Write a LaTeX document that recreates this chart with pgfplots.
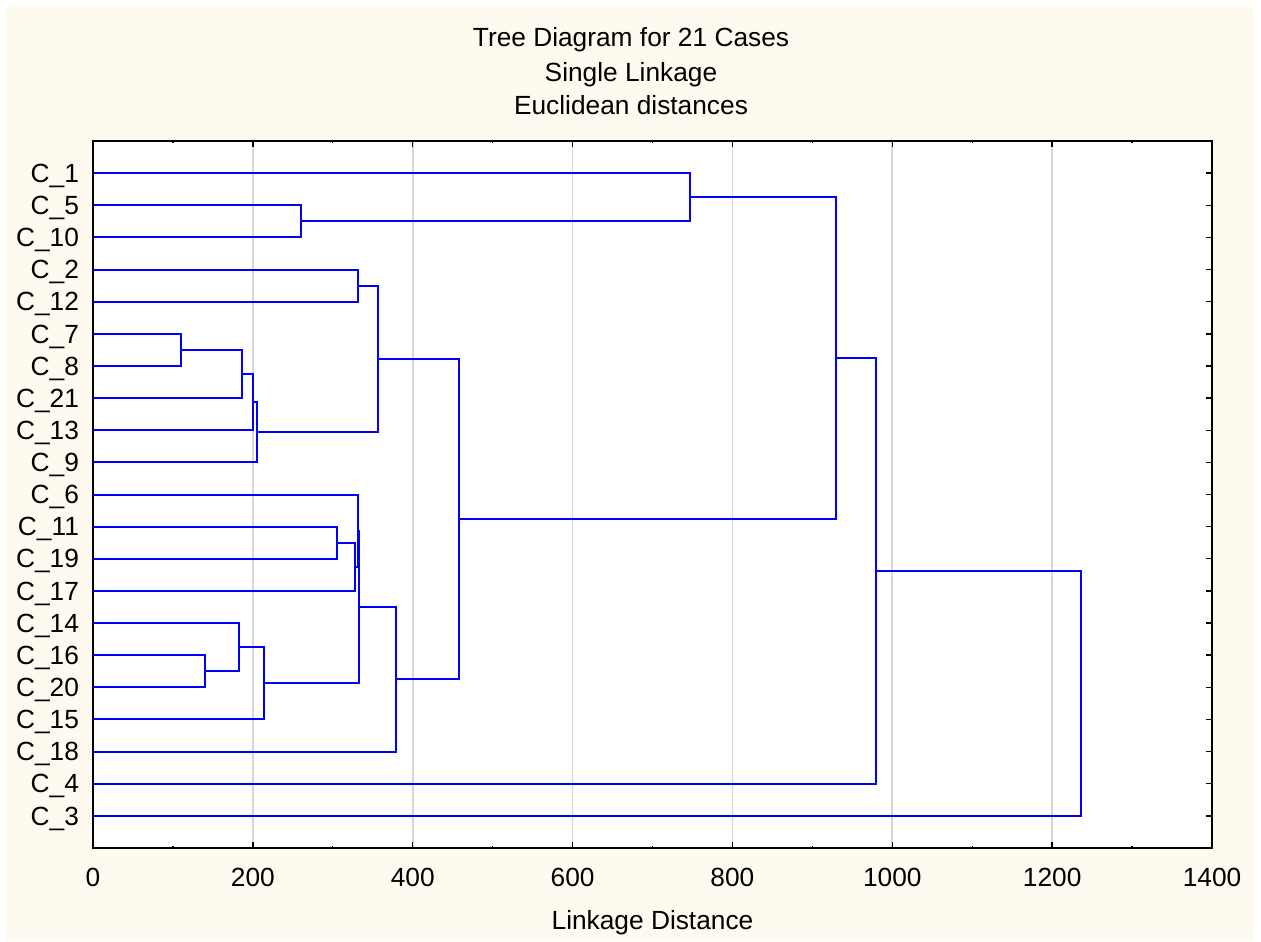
\documentclass[border=0pt]{standalone}
\usepackage{pgfplots}
\pgfplotsset{compat=1.18}
\usepackage{fontspec}
\setmainfont{Liberation Sans}
\definecolor{cream}{RGB}{255,250,240}
\definecolor{gridgray}{RGB}{215,215,215}
\definecolor{dblue}{RGB}{0,0,255}
\tikzset{dend/.style={draw=dblue, solid, line width=1pt, mark=none}}
\begin{document}
\begin{tikzpicture}[font=\fontsize{13.15}{16}\selectfont]
\fill[white] (-46.5pt,-46.5pt) rectangle (584pt,424pt);
\fill[cream] (-43.5pt,-46.5pt) rectangle (580.5pt,420.5pt);
\begin{axis}[
  at={(0,0)}, anchor=south west,
  scale only axis, width=559.5pt, height=353.5pt,
  axis background/.style={fill=white},
  xmin=0, xmax=1400, ymin=0, ymax=22, y dir=reverse,
  xtick={0,200,...,1400}, minor x tick num=1,
  ytick={1,...,21},
  yticklabels={C\_1,C\_5,C\_10,C\_2,C\_12,C\_7,C\_8,C\_21,C\_13,C\_9,C\_6,C\_11,C\_19,C\_17,C\_14,C\_16,C\_20,C\_15,C\_18,C\_4,C\_3},
  scaled x ticks=false,
  /pgf/number format/1000 sep={},
  /pgf/number format/assume math mode=true,
  xmajorgrids,
  major x grid style={draw=gridgray, line width=0.9pt},
  tick align=inside,
  major tick length=3pt, minor tick length=1.2pt,
  every tick/.style={black, line width=0.7pt},
  axis line style={black, line width=0.9pt},
  tick label style={font=\fontsize{13.15}{16}\selectfont},
  yticklabel style={anchor=base east, inner sep=0pt, xshift=-6.85pt, yshift=-4.6pt},
  xticklabel style={anchor=base, inner sep=0pt, yshift=-19pt},
  xlabel={Linkage Distance},
  xlabel style={at={(axis description cs:0.5,0)}, anchor=base, inner sep=0pt, yshift=-40.65pt, font=\fontsize{13.15}{16}\selectfont},
]
% A: C_5 + C_10
\addplot[dend] coordinates {(0,2) (260,2) (260,3) (0,3)};
% B: C_1 + A
\addplot[dend] coordinates {(0,1) (747,1) (747,2.5) (260,2.5)};
% C: C_2 + C_12
\addplot[dend] coordinates {(0,4) (331,4) (331,5) (0,5)};
% D: C_7 + C_8
\addplot[dend] coordinates {(0,6) (110,6) (110,7) (0,7)};
% E: D + C_21
\addplot[dend] coordinates {(110,6.5) (187,6.5) (187,8) (0,8)};
% F: E + C_13
\addplot[dend] coordinates {(187,7.25) (200,7.25) (200,9) (0,9)};
% G: F + C_9
\addplot[dend] coordinates {(200,8.125) (205,8.125) (205,10) (0,10)};
% H: C + G
\addplot[dend] coordinates {(331,4.5) (357,4.5) (357,9.0625) (205,9.0625)};
% I: C_11 + C_19
\addplot[dend] coordinates {(0,12) (305,12) (305,13) (0,13)};
% J: I + C_17
\addplot[dend] coordinates {(305,12.5) (327.5,12.5) (327.5,14) (0,14)};
% K: C_6 + J
\addplot[dend] coordinates {(0,11) (331,11) (331,13.25) (327.5,13.25)};
% L: C_16 + C_20
\addplot[dend] coordinates {(0,16) (140,16) (140,17) (0,17)};
% M: C_14 + L
\addplot[dend] coordinates {(0,15) (183,15) (183,16.5) (140,16.5)};
% N: M + C_15
\addplot[dend] coordinates {(183,15.75) (214,15.75) (214,18) (0,18)};
% O: K + N
\addplot[dend] coordinates {(331,12.125) (333,12.125) (333,16.875) (214,16.875)};
% P: O + C_18
\addplot[dend] coordinates {(333,14.5) (379,14.5) (379,19) (0,19)};
% Q: H + P
\addplot[dend] coordinates {(357,6.78125) (458,6.78125) (458,16.75) (379,16.75)};
% R: B + Q
\addplot[dend] coordinates {(747,1.75) (930,1.75) (930,11.765625) (458,11.765625)};
% S: R + C_4
\addplot[dend] coordinates {(930,6.7578125) (979,6.7578125) (979,20) (0,20)};
% T: S + C_3
\addplot[dend] coordinates {(979,13.37890625) (1236,13.37890625) (1236,21) (0,21)};
\end{axis}
\node[anchor=base, inner sep=0pt] at (269pt,400.65pt) {Tree Diagram for 21 Cases};
\node[anchor=base, inner sep=0pt] at (269pt,383.4pt) {Single Linkage};
\node[anchor=base, inner sep=0pt] at (269pt,366.5pt) {Euclidean distances};
\pgfresetboundingbox
\useasboundingbox (-46.5pt,-46.5pt) rectangle (584pt,424pt);
\end{tikzpicture}
\end{document}
